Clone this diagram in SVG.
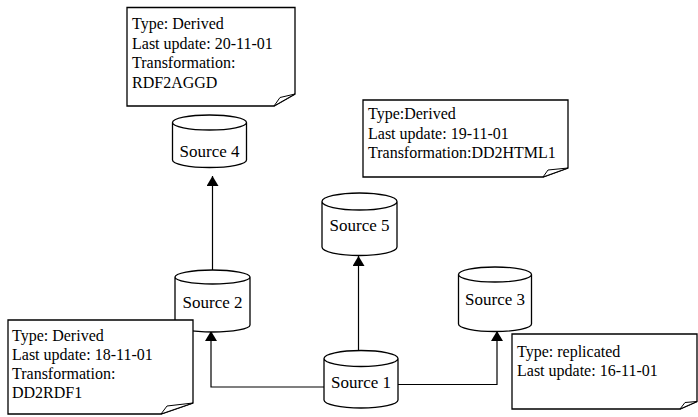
<svg xmlns="http://www.w3.org/2000/svg" width="698" height="417" viewBox="0 0 698 417">
<style>
.bg{fill:#fff}
.shape{fill:#fff;stroke:#000;stroke-width:1.3}
.flap{fill:#fff;stroke:#000;stroke-width:1}
.conn{fill:none;stroke:#000;stroke-width:1.2}
.note{font-family:"Liberation Serif","Times New Roman",serif;font-size:16px;fill:#000}
.lbl{font-family:"Liberation Serif","Times New Roman",serif;font-size:17px;fill:#000;text-anchor:middle}
</style>
<defs>
<marker id="arr" viewBox="0 0 10 12" refX="10" refY="6" markerWidth="10" markerHeight="12" markerUnits="userSpaceOnUse" orient="auto">
<path d="M0,0 L10,6 L0,12 Z" fill="#000"/>
</marker>
</defs>
<rect class="bg" width="698" height="417"/>
<g id="connectors">
<path class="conn" d="M212.5,270 V176" marker-end="url(#arr)"/>
<path class="conn" d="M358.5,350 V256" marker-end="url(#arr)"/>
<path class="conn" d="M324,387 H211 V331" marker-end="url(#arr)"/>
<path class="conn" d="M398,384.5 H497 V331" marker-end="url(#arr)"/>
</g>
<g id="source4">
<path class="shape" d="M172.5,122.5 V160 A37,7.5 0 0 0 246.5,160 V122.5 A37,7.5 0 0 0 172.5,122.5 A37,7.5 0 0 0 246.5,122.5"/>
<text class="lbl" x="209.5" y="157">Source 4</text>
</g>
<g id="source2">
<path class="shape" d="M175,277 V325 A37.5,7 0 0 0 250,325 V277 A37.5,7 0 0 0 175,277 A37.5,7 0 0 0 250,277"/>
<text class="lbl" x="212.5" y="308">Source 2</text>
</g>
<g id="source5">
<path class="shape" d="M322,201.5 V247 A37.5,8.5 0 0 0 397,247 V201.5 A37.5,8.5 0 0 0 322,201.5 A37.5,8.5 0 0 0 397,201.5"/>
<text class="lbl" x="359.5" y="231">Source 5</text>
</g>
<g id="source1">
<path class="shape" d="M324,358.5 V400 A37,8 0 0 0 398,400 V358.5 A37,8 0 0 0 324,358.5 A37,8 0 0 0 398,358.5"/>
<text class="lbl" x="361" y="388">Source 1</text>
</g>
<g id="source3">
<path class="shape" d="M458.5,274.5 V324 A36.5,7.5 0 0 0 531.5,324 V274.5 A36.5,7.5 0 0 0 458.5,274.5 A36.5,7.5 0 0 0 531.5,274.5"/>
<text class="lbl" x="495" y="305">Source 3</text>
</g>
<g id="note1">
<path class="shape" d="M127,7.5 H295 V94 L274,106 H127 Z"/>
<path class="flap" d="M274,106 L280,97.5 L295,94 Z"/>
<text class="note" x="132" y="28.5">Type: Derived</text>
<text class="note" x="132" y="48.5">Last update: 20-11-01</text>
<text class="note" x="132" y="68">Transformation:</text>
<text class="note" x="132" y="87.5">RDF2AGGD</text>
</g>
<g id="note2">
<path class="shape" d="M363,100 H568 V168 L543,177 H363 Z"/>
<path class="flap" d="M543,177 L548,170 L568,168 Z"/>
<text class="note" x="368" y="119">Type:Derived</text>
<text class="note" x="368" y="138.5">Last update: 19-11-01</text>
<text class="note" x="368" y="158">Transformation:DD2HTML1</text>
</g>
<g id="note3">
<path class="shape" d="M8,320 H193 V403 L161,414 H8 Z"/>
<path class="flap" d="M161,414 L167,406 L193,403 Z"/>
<text class="note" x="12" y="341">Type: Derived</text>
<text class="note" x="12" y="360">Last update: 18-11-01</text>
<text class="note" x="12" y="379">Transformation:</text>
<text class="note" x="12" y="398">DD2RDF1</text>
</g>
<g id="note4">
<path class="shape" d="M512,334 H697 V401.5 L680,409 H512 Z"/>
<path class="flap" d="M680,409 L685,402.5 L697,401.5 Z"/>
<text class="note" x="517" y="357">Type: replicated</text>
<text class="note" x="517" y="376">Last update: 16-11-01</text>
</g>
</svg>
